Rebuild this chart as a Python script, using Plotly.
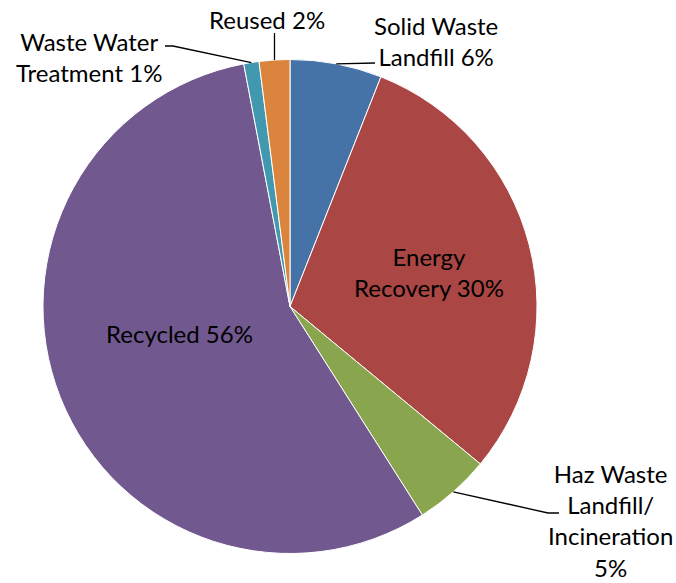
import math
import plotly.graph_objects as go

# Waste disposition shares (percent), clockwise from 12 o'clock
categories = ["Solid Waste Landfill", "Energy Recovery", "Haz Waste Landfill/ Incineration",
              "Recycled", "Waste Water Treatment", "Reused"]
values = [6, 30, 5, 56, 1, 2]
label_texts = ["Solid Waste<br>Landfill 6%", "Energy<br>Recovery 30%",
               "Haz Waste<br>Landfill/<br>Incineration<br>5%", "Recycled 56%",
               "Waste Water<br>Treatment 1%", "Reused 2%"]
colors = ["#4572A7", "#AA4643", "#89A54E", "#71588F", "#4198AF", "#DB843D"]

W, H = 676, 583
CX, CY, R = 290, 306.5, 247          # pie centre and radius in pixels
FONT = dict(family="Lato, Calibri, Carlito, sans-serif", size=24, color="#000000")


def px(x):
    return x / W


def py(y):
    return 1 - y / H


# label centre (pixels) and leader-line bend points (pixels) per slice
label_pos = [(436, 41), (429, 272), (610, 520), (179, 333), (89, 57), (267, 19)]
leader_path = [[(375, 63)], None, [(548, 513), (559, 513)], None,
               [(173, 46), (165, 46)], [(None, 33)]]

fig = go.Figure(go.Pie(
    labels=categories, values=values, sort=False, direction="clockwise", rotation=0,
    marker=dict(colors=colors, line=dict(color="#FFFFFF", width=1)),
    textinfo="none", hoverinfo="label+percent", showlegend=False,
    domain=dict(x=[px(CX - R), px(CX + R)], y=[py(CY + R), py(CY - R)]),
))

total = sum(values)
cum = 0
annotations, shapes = [], []
for i, v in enumerate(values):
    mid = (cum + v / 2) / total * 2 * math.pi
    cum += v
    ex, ey = CX + R * math.sin(mid), CY - R * math.cos(mid)
    lx, ly = label_pos[i]
    annotations.append(dict(x=px(lx), y=py(ly), xref="paper", yref="paper",
                            text=label_texts[i], showarrow=False, font=FONT,
                            align="center", xanchor="center", yanchor="middle"))
    if leader_path[i]:
        pts = [(ex, ey)] + [((ex if a is None else a), b) for a, b in leader_path[i]]
        path = "M " + " L ".join(f"{px(a)},{py(b)}" for a, b in pts)
        shapes.append(dict(type="path", path=path, xref="paper", yref="paper",
                           line=dict(color="#000000", width=1.3)))

fig.update_layout(
    width=W, height=H, margin=dict(l=0, r=0, t=0, b=0),
    paper_bgcolor="#FFFFFF", plot_bgcolor="#FFFFFF",
    annotations=annotations, shapes=shapes,
)

fig.write_html("out.html")
